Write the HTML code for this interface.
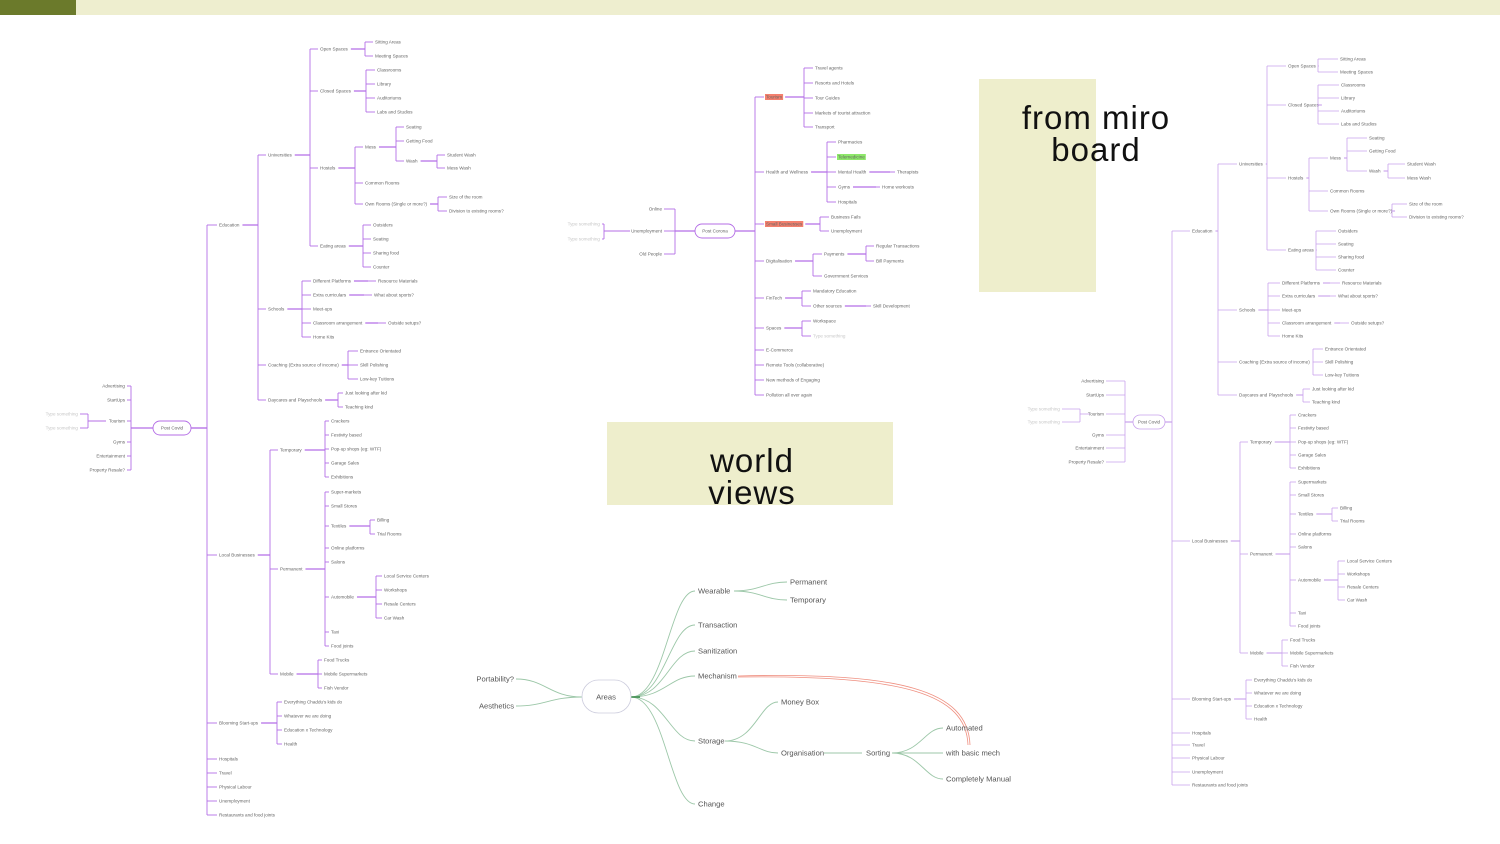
<!DOCTYPE html>
<html><head><meta charset="utf-8"><style>
html,body{margin:0;padding:0;background:#fff;width:1500px;height:844px;overflow:hidden}
svg{display:block}
.t{font-family:"Liberation Sans",sans-serif;font-size:4.6px;fill:#666}
.g{fill:#c8c8c8}
.m{font-family:"Liberation Sans",sans-serif;font-size:7.6px;fill:#555}
.big{font-family:"Liberation Sans",sans-serif;font-size:33px;fill:#111;text-anchor:middle;letter-spacing:1px}
</style></head><body>
<svg id="s" width="1500" height="844" viewBox="0 0 1500 844" xmlns="http://www.w3.org/2000/svg">
<rect x="0" y="0" width="76" height="15" fill="#6b7a2b"/>
<rect x="76" y="0" width="1424" height="15" fill="#eeeecf"/>
<rect x="979" y="79" width="117" height="213" fill="#eeeecc"/>
<rect x="607" y="422" width="286" height="83" fill="#eeeecc"/>
<text class="big" x="1096" y="129">from miro</text>
<text class="big" x="1096" y="161">board</text>
<text class="big" x="752" y="472">world</text>
<text class="big" x="752" y="504">views</text>
<g id="L"></g>
<!-- mind map -->
<g fill="none" stroke="#9cc7a8" stroke-width="0.9">
<path d="M631,697 C665,697 670,591 695,591"/>
<path d="M631,697 C665,697 670,625 695,625"/>
<path d="M631,697 C665,697 670,651 695,651"/>
<path d="M631,697 C665,697 670,676 695,676"/>
<path d="M631,697 C665,697 670,741 695,741"/>
<path d="M631,697 C665,697 670,804 695,804"/>
<path d="M734,591 C760,591 765,582 787,582"/>
<path d="M734,591 C760,591 765,600 787,600"/>
<path d="M725,741 C755,741 760,702 778,702"/>
<path d="M725,741 C755,741 760,753 778,753"/>
<path d="M824,753 L862,753"/>
<path d="M892,753 C920,753 925,728 943,728"/>
<path d="M892,753 L943,753"/>
<path d="M892,753 C920,753 925,779 943,779"/>
<path d="M582,697 C550,697 545,679 516,679"/>
<path d="M582,697 C550,697 545,706 516,706"/>
</g>
<path d="M631,697 L640,697" stroke="#3a8a4a" stroke-width="1.5"/>
<g fill="none" stroke="#ef8f80" stroke-width="0.8">
<path d="M738,676 C900,672 968,690 970,745"/>
<path d="M738,677 C905,675 966,694 968,745"/>
</g>
<rect x="582" y="680" width="49" height="33" rx="16.5" fill="#fff" stroke="#ccd" stroke-width="0.8"/>
<text class="m" x="606" y="699.5" text-anchor="middle">Areas</text>
<text class="m" x="698" y="593.5">Wearable</text>
<text class="m" x="790" y="584.5">Permanent</text>
<text class="m" x="790" y="602.5">Temporary</text>
<text class="m" x="698" y="627.5">Transaction</text>
<text class="m" x="698" y="653.5">Sanitization</text>
<text class="m" x="698" y="678.5">Mechanism</text>
<text class="m" x="698" y="743.5">Storage</text>
<text class="m" x="698" y="806.5">Change</text>
<text class="m" x="781" y="704.5">Money Box</text>
<text class="m" x="781" y="755.5">Organisation</text>
<text class="m" x="866" y="755.5">Sorting</text>
<text class="m" x="946" y="730.5">Automated</text>
<text class="m" x="946" y="755.5">with basic mech</text>
<text class="m" x="946" y="781.5">Completely Manual</text>
<text class="m" x="514" y="681.5" text-anchor="end">Portability?</text>
<text class="m" x="514" y="708.5" text-anchor="end">Aesthetics</text>
</svg>
<script>
var NS="http://www.w3.org/2000/svg",G=document.getElementById("L");
var COL="#b46ee6",SW=0.9;
function el(n,a){var e=document.createElementNS(NS,n);for(var k in a)e.setAttribute(k,a[k]);G.appendChild(e);return e;}
function line(x1,y1,x2,y2,c,w){el("line",{x1:x1,y1:y1,x2:x2,y2:y2,stroke:c||COL,"stroke-width":w||SW});}
function txt(x,y,s,anchor){
  var cls="t",hl=null;
  if(s.charAt(0)=="~"){cls="t g";s=s.slice(1);}
  if(s.charAt(0)=="!"){hl="#f4806e";s=s.slice(1);}
  if(s.charAt(0)=="^"){hl="#8ee86a";s=s.slice(1);}
  var r=null; if(hl) r=el("rect",{fill:hl});
  var t=el("text",{"class":cls,x:x,y:y+1.6}); t.textContent=s;
  if(anchor) t.setAttribute("text-anchor",anchor);
  var w=t.getComputedTextLength();
  if(r){r.setAttribute("x",x-1);r.setAttribute("y",y-3);r.setAttribute("width",w+2);r.setAttribute("height",6);}
  return anchor?x:x+w;
}
// node: [y,label,bus,childX,kids]
function draw(x,n){
  var e=txt(x,n[0],n[1]);
  if(n[4]){
    var b=n[2],cx=n[3],k=n[4],mn=n[0],mx=n[0];
    line(e+3,n[0],b,n[0],COL,SW*1.4);
    k.forEach(function(c){mn=Math.min(mn,c[0]);mx=Math.max(mx,c[0]);line(b,c[0],cx-2,c[0]);});
    line(b,mn,b,mx);
    k.forEach(function(c){draw(cx,c);});
  }
}
function root(cx,cy,w,label,leftEnd,leftBus,left,rightBus,rightX,right,extraLeft){
  el("rect",{x:cx-w/2,y:cy-7,width:w,height:14,rx:7,fill:"#fff",stroke:COL,"stroke-width":SW});
  var t=el("text",{"class":"t",x:cx,y:cy+1.6,"text-anchor":"middle"});t.textContent=label;
  // left
  var mn=cy,mx=cy;
  left.forEach(function(c){txt(leftEnd,c[0],c[1],"end");line(leftEnd+2,c[0],leftBus,c[0]);mn=Math.min(mn,c[0]);mx=Math.max(mx,c[0]);});
  line(leftBus,mn,leftBus,mx);line(leftBus,cy,cx-w/2,cy,COL,SW*1.5);
  if(extraLeft){var ex=extraLeft,a=9e9,bb=-9e9;ex.k.forEach(function(c){txt(ex.x,c[0],c[1],"end");line(ex.x+2,c[0],ex.bus,c[0]);a=Math.min(a,c[0]);bb=Math.max(bb,c[0]);});
    line(ex.bus,a,ex.bus,bb);line(ex.bus,ex.py,ex.pend,ex.py);}
  // right
  mn=cy;mx=cy;
  line(cx+w/2,cy,rightBus,cy,COL,SW*1.5);
  right.forEach(function(c){mn=Math.min(mn,c[0]);mx=Math.max(mx,c[0]);line(rightBus,c[0],rightX-2,c[0]);});
  line(rightBus,mn,rightBus,mx);
  right.forEach(function(c){draw(rightX,c);});
}
// LEFT TREE
root(172,428,38,"Post Covid",125,131,
 [[386,"Advertising"],[400,"StartUps"],[421,"Tourism"],[442,"Gyms"],[456,"Entertainment"],[470,"Property Resale?"]],
 207,219,[
  [225,"Education",258,268,[
    [155,"Universities",310,320,[
      [49,"Open Spaces",365,375,[[42,"Sitting Areas"],[56,"Meeting Spaces"]]],
      [91,"Closed Spaces",366,377,[[70,"Classrooms"],[84,"Library"],[98,"Auditoriums"],[112,"Labs and Studios"]]],
      [168,"Hostels",355,365,[
        [147,"Mess",396,406,[[127,"Seating"],[141,"Getting Food"],[161,"Wash",437,447,[[155,"Student Wash"],[168,"Mess Wash"]]]]],
        [183,"Common Rooms"],
        [204,"Own Rooms (Single or more?)",438,449,[[197,"Size of the room"],[211,"Division to existing rooms?"]]]]],
      [246,"Eating areas",363,373,[[225,"Outsiders"],[239,"Seating"],[253,"Sharing food"],[267,"Counter"]]]]],
    [309,"Schools",302,313,[
      [281,"Different Platforms",368,378,[[281,"Resource Materials"]]],
      [295,"Extra curriculars",364,374,[[295,"What about sports?"]]],
      [309,"Meet-ups"],
      [323,"Classroom arrangement",378,388,[[323,"Outside setups?"]]],
      [337,"Home Kits"]]],
    [365,"Coaching (Extra source of income)",348,360,[[351,"Entrance Orientated"],[365,"Skill Polishing"],[379,"Low-key Tuitions"]]],
    [400,"Daycares and Playschools",338,345,[[393,"Just looking after kid"],[407,"Teaching kind"]]]]],
  [555,"Local Businesses",270,280,[
    [450,"Temporary",325,331,[[421,"Crackers"],[435,"Festivity based"],[449,"Pop-up shops (eg: WTF)"],[463,"Garage Sales"],[477,"Exhibitions"]]],
    [569,"Permanent",325,331,[[492,"Super-markets"],[506,"Small Stores"],
      [526,"Textiles",370,377,[[520,"Billing"],[534,"Trial Rooms"]]],
      [548,"Online platforms"],[562,"Salons"],
      [597,"Automobile",376,384,[[576,"Local Service Centers"],[590,"Workshops"],[604,"Resale Centers"],[618,"Car Wash"]]],
      [632,"Taxi"],[646,"Food joints"]]],
    [674,"Mobile",318,324,[[660,"Food Trucks"],[674,"Mobile Supermarkets"],[688,"Fish Vendor"]]]]],
  [723,"Blooming Start-ups",277,284,[[702,"Everything Chaddu's kids do"],[716,"Whatever we are doing"],[730,"Education x Technology"],[744,"Health"]]],
  [759,"Hospitals"],[773,"Travel"],[787,"Physical Labour"],[801,"Unemployment"],[815,"Restaurants and food joints"]
 ],{x:78,bus:88,py:421,pend:106,k:[[414,"~Type something"],[428,"~Type something"]]});
// MIDDLE TREE
root(715,231,40,"Post Corona",662,675,
 [[209,"Online"],[231,"Unemployment"],[254,"Old People"]],
 755,766,[
  [97,"!Tourism",804,815,[[68,"Travel agents"],[83,"Resorts and Hotels"],[98,"Tour Guides"],[113,"Markets of tourist attraction"],[127,"Transport"]]],
  [172,"Health and Wellness",827,838,[[142,"Pharmacies"],[157,"^Telemedicine"],[172,"Mental Health",890,897,[[172,"Therapists"]]],[187,"Gyms",876,882,[[187,"Home workouts"]]],[202,"Hospitals"]]],
  [224,"!Small Businesses",820,831,[[217,"Business Fails"],[231,"Unemployment"]]],
  [261,"Digitalisation",813,824,[[254,"Payments",866,876,[[246,"Regular Transactions"],[261,"Bill Payments"]]],[276,"Government Services"]]],
  [298,"FinTech",802,813,[[291,"Mandatory Education"],[306,"Other sources",866,873,[[306,"Skill Development"]]]]],
  [328,"Spaces",802,813,[[321,"Workspace"],[336,"~Type something"]]],
  [350,"E-Commerce"],[365,"Remote Tools (collaborative)"],[380,"New methods of Engaging"],[395,"Pollution all over again"]
 ],{x:600,bus:604,py:231,pend:630,k:[[224,"~Type something"],[239,"~Type something"]]});
// RIGHT TREE
COL="#c9a2ec";SW=0.8;
root(1149,422,32,"Post Covid",1104,1125,
 [[381,"Advertising"],[395,"StartUps"],[414,"Tourism"],[435,"Gyms"],[448,"Entertainment"],[462,"Property Resale?"]],
 1172,1192,[
  [231,"Education",1218,1239,[
    [164,"Universities",1267,1288,[
      [66,"Open Spaces",1318,1340,[[59,"Sitting Areas"],[72,"Meeting Spaces"]]],
      [105,"Closed Spaces",1318,1341,[[85,"Classrooms"],[98,"Library"],[111,"Auditoriums"],[124,"Labs and Studios"]]],
      [178,"Hostels",1309,1330,[
        [158,"Mess",1347,1369,[[138,"Seating"],[151,"Getting Food"],[171,"Wash",1388,1407,[[164,"Student Wash"],[178,"Mess Wash"]]]]],
        [191,"Common Rooms"],
        [211,"Own Rooms (Single or more?)",1392,1409,[[204,"Size of the room"],[217,"Division to existing rooms?"]]]]],
      [250,"Eating areas",1316,1338,[[231,"Outsiders"],[244,"Seating"],[257,"Sharing food"],[270,"Counter"]]]]],
    [310,"Schools",1268,1282,[
      [283,"Different Platforms",1330,1342,[[283,"Resource Materials"]]],
      [296,"Extra curriculars",1330,1338,[[296,"What about sports?"]]],
      [310,"Meet-ups"],
      [323,"Classroom arrangement",1340,1351,[[323,"Outside setups?"]]],
      [336,"Home Kits"]]],
    [362,"Coaching (Extra source of income)",1313,1325,[[349,"Entrance Orientated"],[362,"Skill Polishing"],[375,"Low-key Tuitions"]]],
    [395,"Daycares and Playschools",1303,1312,[[389,"Just looking after kid"],[402,"Teaching kind"]]]]],
  [541,"Local Businesses",1240,1250,[
    [442,"Temporary",1290,1298,[[415,"Crackers"],[428,"Festivity based"],[442,"Pop-up shops (eg: WTF)"],[455,"Garage Sales"],[468,"Exhibitions"]]],
    [554,"Permanent",1290,1298,[[482,"Supermarkets"],[495,"Small Stores"],
      [514,"Textiles",1332,1340,[[508,"Billing"],[521,"Trial Rooms"]]],
      [534,"Online platforms"],[547,"Salons"],
      [580,"Automobile",1338,1347,[[561,"Local Service Centers"],[574,"Workshops"],[587,"Resale Centers"],[600,"Car Wash"]]],
      [613,"Taxi"],[626,"Food joints"]]],
    [653,"Mobile",1282,1290,[[640,"Food Trucks"],[653,"Mobile Supermarkets"],[666,"Fish Vendor"]]]]],
  [699,"Blooming Start-ups",1246,1254,[[680,"Everything Chaddu's kids do"],[693,"Whatever we are doing"],[706,"Education x Technology"],[719,"Health"]]],
  [733,"Hospitals"],[745,"Travel"],[758,"Physical Labour"],[772,"Unemployment"],[785,"Restaurants and food joints"]
 ],{x:1060,bus:1080,py:414,pend:1090,k:[[409,"~Type something"],[422,"~Type something"]]});
</script>
</body></html>
